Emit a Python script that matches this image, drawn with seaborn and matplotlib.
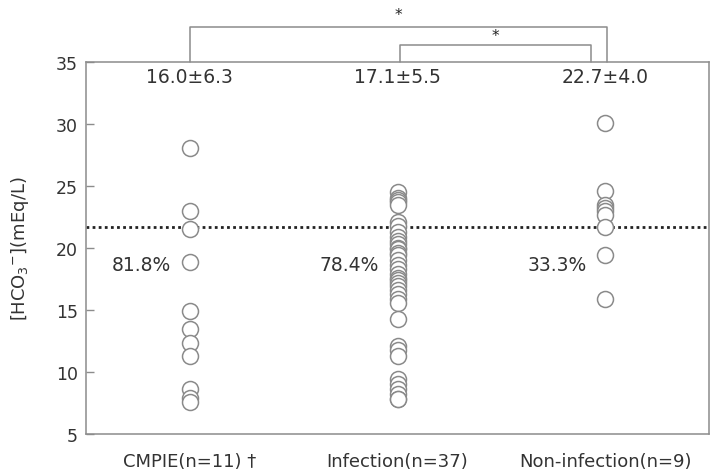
import matplotlib
matplotlib.use("Agg")
import matplotlib.pyplot as plt
import seaborn as sns
import pandas as pd

categories = ["CMPIE(n=11) †", "Infection(n=37)", "Non-infection(n=9)"]
cmpie = [28.1, 23.0, 21.5, 18.85, 14.9, 13.5, 12.3, 11.3, 8.6, 7.9, 7.6]
infection = [24.5, 24.0, 23.9, 23.7, 23.5, 22.1, 21.8, 21.3, 20.9, 20.6, 20.3, 20.0,
             19.9, 19.6, 19.4, 19.0, 18.6, 18.3, 17.9, 17.6, 17.4, 17.2, 16.9, 16.6,
             16.3, 15.9, 15.6, 14.3, 12.1, 11.8, 11.3, 9.4, 9.0, 8.6, 8.2, 7.8, 7.8]
noninfection = [30.1, 24.6, 23.5, 23.2, 23.0, 22.7, 21.7, 19.4, 15.9]
mean_sd = ["16.0±6.3", "17.1±5.5", "22.7±4.0"]
percents = ["81.8%", "78.4%", "33.3%"]
cutoff = 21.7
yticks = [5, 10, 15, 20, 25, 30, 35]

df = pd.DataFrame({
    "group": [categories[0]] * len(cmpie) + [categories[1]] * len(infection) + [categories[2]] * len(noninfection),
    "value": cmpie + infection + noninfection,
})

sns.set_style("white")
plt.rcParams["font.family"] = ["DejaVu Sans"]
fig = plt.figure(figsize=(7.12, 4.77), dpi=100)
ax = fig.add_axes([86 / 712, 42 / 477, 623 / 712, 372 / 477])

text_col = "#333333"
line_col = "#8c8c8c"

sns.stripplot(data=df, x="group", y="value", order=categories, jitter=False,
              color="white", edgecolor="#8a8a8a", linewidth=1.1, size=11.5, ax=ax, zorder=3)

ax.axhline(cutoff, color="#222222", lw=2.0, linestyle=(0, (1, 1.2)), zorder=2)

ax.set_xlim(-0.5, 2.5)
ax.set_ylim(5, 35)
ax.set_yticks(yticks)
ax.set_yticklabels([str(t) for t in yticks], fontsize=12.5, color=text_col)
ax.set_xticks(range(3))
ax.set_xticklabels(categories, fontsize=13, color=text_col)
ax.tick_params(axis="x", length=0, pad=13)
ax.set_xticks([0.5, 1.5], minor=True)
ax.tick_params(axis="x", which="minor", direction="in", length=6, color=line_col, width=1)
ax.tick_params(axis="y", direction="in", length=6, color=line_col, width=1, left=True, pad=6)
ax.set_xlabel("")
ax.set_ylabel(r"[HCO$_3$$^{-}$](mEq/L)", fontsize=13, color=text_col, labelpad=18)
for s in ax.spines.values():
    s.set_color(line_col)
    s.set_linewidth(1.1)

for i, (m, p) in enumerate(zip(mean_sd, percents)):
    ax.text(i, 33.8, m, ha="center", va="center", fontsize=13.5, color=text_col)
    ax.text(i - 0.09, 18.7, p, ha="right", va="center", fontsize=13.5, color=text_col)

# significance brackets
def bracket(x0, x1, ytop, ystar):
    ax.plot([x0, x0, x1, x1], [35, ytop, ytop, 35], color=line_col, lw=1.1, clip_on=False)
    ax.text((x0 + x1) / 2, ystar, "*", ha="center", va="center", fontsize=11, color="#222222")

bracket(0, 2.01, 37.8, 38.8)
bracket(1.01, 1.93, 36.4, 37.1)

fig.savefig("out.png", dpi=100)
